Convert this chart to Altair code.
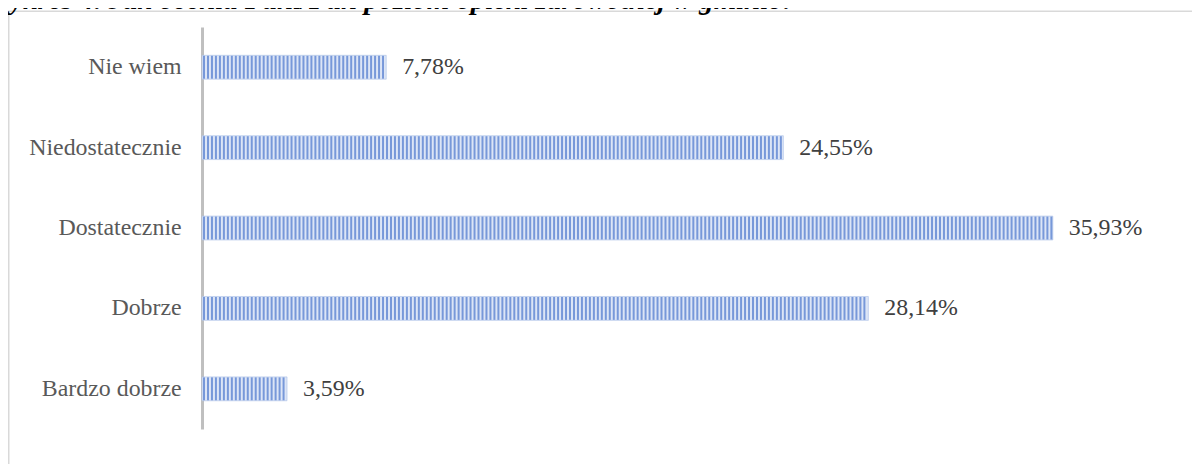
import altair as alt
import pandas as pd

categories = ["Nie wiem", "Niedostatecznie", "Dostatecznie", "Dobrze", "Bardzo dobrze"]
values = [7.78, 24.55, 35.93, 28.14, 3.59]
title_text = "Wykres 4. Jak ocenia Pani/Pan poziom opieki zdrowotnej w gminie?"

df = pd.DataFrame({
    "kategoria": categories,
    "wartosc": values,
    "etykieta": [f"{v:.2f}".replace(".", ",") + "%" for v in values],
})

W, H = 952, 404
PL, PT, PR, PB = 195, 18, 43, 34
FONT = "Liberation Serif"

y_enc = alt.Y("kategoria:N", sort=categories,
              scale=alt.Scale(paddingInner=0, paddingOuter=0),
              axis=alt.Axis(title=None, domain=True, domainColor="#bfbfbf", domainWidth=3,
                            ticks=False, grid=False, labelFont=FONT, labelFontSize=24,
                            labelColor="#595959", labelPadding=21))
x_scale = alt.Scale(domain=[0, 40], nice=False, zero=True)

base = alt.Chart(df)

bars = base.mark_bar(size=24, fill="#dce5f6", stroke="#a9bfe8", strokeWidth=0.6).encode(
    x=alt.X("wartosc:Q", scale=x_scale, axis=None),
    y=y_enc,
)

stripes = base.transform_calculate(
    s="sequence(0.084, datum.wartosc - 0.05, 0.168)"
).transform_flatten(["s"]).mark_tick(
    size=23, thickness=2, color="#6b8fd6", opacity=0.9
).encode(
    x=alt.X("s:Q", scale=x_scale, axis=None),
    y=alt.Y("kategoria:N", sort=categories),
)

labels = base.mark_text(align="left", baseline="middle", dx=16, font=FONT,
                        fontSize=24, color="#404040").encode(
    x=alt.X("wartosc:Q", scale=x_scale, axis=None),
    y=alt.Y("kategoria:N", sort=categories),
    text="etykieta:N",
)

deco = alt.Data(values=[{"d": 1}])
frame = alt.Chart(deco).mark_rect(fill=None, stroke="#d9d9d9", strokeWidth=1.5).encode(
    x=alt.value(-PL + 0.75), x2=alt.value(W + PR + 10),
    y=alt.value(2 - PT), y2=alt.value(H + PB + 10),
)
title = alt.Chart(deco).mark_text(align="left", baseline="alphabetic", font=FONT,
                                  fontSize=29, fontStyle="italic", fontWeight="bold",
                                  color="#000000").encode(
    x=alt.value(-PL - 22), y=alt.value(0 - PT), text=alt.value(title_text),
)

chart = alt.layer(frame, title, bars, stripes, labels).properties(
    width=W, height=H,
    autosize=alt.AutoSizeParams(type="none"),
    padding={"left": PL, "top": PT, "right": PR, "bottom": PB},
    background="#ffffff",
).configure_view(stroke=None)

chart.save("out.html", embed_options={"renderer": "svg", "actions": False})
